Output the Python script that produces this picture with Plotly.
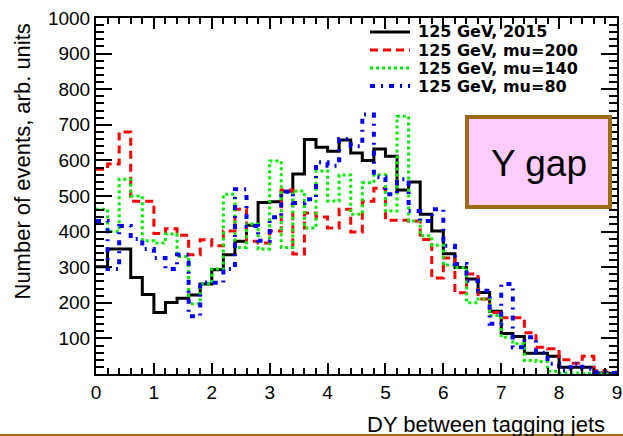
import plotly.graph_objects as go

# Histogram binning: 45 bins of width 0.2 over DY = 0 .. 9
bin_width = 0.2
n_bins = 45
bin_edges = [round(i * bin_width, 1) for i in range(n_bins + 1)]

# Bin contents (arb. units)
h_2015 = [301, 351, 351, 271, 223, 173, 201, 213, 222, 253,
          293, 335, 373, 418, 482, 484, 513, 562, 659, 637,
          626, 657, 621, 600, 632, 612, 517, 539, 449, 402,
          338, 299, 267, 229, 176, 114, 105, 58, 58, 50,
          19, 19, 19, 3, 2]
h_mu200 = [575, 590, 680, 485, 485, 395, 408, 390, 335, 377,
           360, 402, 463, 373, 368, 402, 517, 337, 452, 441,
           410, 463, 399, 485, 522, 432, 432, 430, 378, 270,
           326, 228, 281, 211, 173, 158, 158, 116, 75, 71,
           40, 30, 50, 10, 5]
h_mu140 = [463, 400, 547, 500, 374, 368, 393, 330, 197, 253,
           295, 505, 355, 421, 351, 598, 355, 514, 410, 570,
           486, 559, 449, 537, 560, 458, 724, 430, 388, 362,
           306, 299, 200, 211, 164, 103, 85, 38, 35, 8,
           3, 3, 2, 1, 1]
h_mu80 = [430, 295, 416, 379, 351, 326, 295, 335, 162, 257,
          256, 295, 519, 416, 374, 440, 512, 480, 491, 595,
          585, 660, 640, 729, 553, 505, 547, 458, 430, 463,
          360, 309, 262, 234, 141, 253, 75, 103, 60, 29,
          10, 29, 15, 5, 3]

series = [
    ("125 GeV, 2015", h_2015, "black", 3, "solid"),
    ("125 GeV, mu=200", h_mu200, "#ff0000", 3, "8px,5px"),
    ("125 GeV, mu=140", h_mu140, "#00ee00", 3, "3px,3px"),
    ("125 GeV, mu=80", h_mu80, "#0000ff", 4, "5px,6px,2px,6px"),
]

x_min, x_max = 0, 9
y_min, y_max = 0, 1000

# plot-area geometry in pixels
W, H = 623, 436
L, R, T, B = 96, 6, 18, 62
pw, ph = W - L - R, H - T - B


def px(xpix):
    return (xpix - L) / pw


def py(ypix):
    return (H - B - ypix) / ph


fig = go.Figure()

for name, vals, color, width, dash in series:
    xs = bin_edges[:-1] + [bin_edges[-1]]
    ys = vals + [vals[-1]]
    fig.add_trace(go.Scatter(
        x=xs, y=ys, mode="lines", name=name,
        line=dict(color=color, width=width, dash=dash, shape="hv"),
        showlegend=False, hoverinfo="skip",
    ))

# dummy trace so the mirrored top/right axes are drawn
fig.add_trace(go.Scatter(x=[None], y=[None], xaxis="x2", yaxis="y2",
                         showlegend=False, hoverinfo="skip"))

tick_font = dict(family="Liberation Sans, Arial, sans-serif", size=19, color="black")

common_x = dict(range=[x_min, x_max], showgrid=False, zeroline=False,
                showline=True, linecolor="black", linewidth=2,
                ticks="inside", ticklen=11, tickwidth=1.5, tickcolor="black",
                dtick=1, tick0=0, ticklabeloverflow="allow", automargin=False,
                minor=dict(ticks="inside", ticklen=6, tickwidth=1.5,
                           tickcolor="black", dtick=0.2, showgrid=False))
common_y = dict(range=[y_min, y_max], showgrid=False, zeroline=False,
                showline=True, linecolor="black", linewidth=2,
                ticks="inside", ticklen=16, tickwidth=1.5, tickcolor="black",
                tickvals=list(range(100, 1001, 100)), automargin=False,
                minor=dict(ticks="inside", ticklen=8, tickwidth=1.5,
                           tickcolor="black", tickvals=list(range(0, 1001, 20)),
                           showgrid=False))

fig.update_layout(
    width=W, height=H,
    margin=dict(l=L, r=R, t=T, b=B),
    paper_bgcolor="white", plot_bgcolor="white",
    xaxis=dict(**common_x, tickfont=tick_font, showticklabels=True),
    xaxis2=dict(**common_x, overlaying="x", side="top", showticklabels=False),
    yaxis=dict(**common_y, tickfont=tick_font, showticklabels=True),
    yaxis2=dict(**common_y, overlaying="y", side="right", showticklabels=False),
    showlegend=False,
)

title_font = dict(family="Liberation Sans, Arial, sans-serif", size=22, color="black")

annotations = [
    dict(text="Number of events, arb. units", x=px(22), y=py(161.5),
         xref="paper", yref="paper", textangle=-90, showarrow=False,
         xanchor="center", yanchor="middle", font=title_font),
    dict(text="DY between tagging jets", x=px(486), y=py(424),
         xref="paper", yref="paper", showarrow=False,
         xanchor="center", yanchor="middle", font=title_font),
    dict(text="Y gap", x=px(539), y=py(163), xref="paper", yref="paper",
         showarrow=False, xanchor="center", yanchor="middle",
         font=dict(family="Liberation Sans, Arial, sans-serif", size=37, color="black")),
]

shapes = [
    # label box
    dict(type="rect", xref="paper", yref="paper",
         x0=px(467), x1=px(610), y0=py(207), y1=py(117),
         fillcolor="#ffccff", line=dict(color="#9c6b14", width=4), layer="above"),
    # bottom border of the canvas
    dict(type="line", xref="paper", yref="paper",
         x0=px(0), x1=px(W), y0=py(435), y1=py(435),
         line=dict(color="#9c6b14", width=2)),
]

# legend: line samples and labels
legend_rows = [32, 50, 68, 86]
for (name, vals, color, width, dash), yrow in zip(series, legend_rows):
    shapes.append(dict(type="line", xref="paper", yref="paper",
                       x0=px(370), x1=px(410), y0=py(yrow), y1=py(yrow),
                       line=dict(color=color, width=width, dash=dash)))
    annotations.append(dict(text="<b>%s</b>" % name, x=px(416), y=py(yrow),
                            xref="paper", yref="paper", showarrow=False,
                            xanchor="left", yanchor="middle",
                            font=dict(family="DejaVu Sans, sans-serif",
                                      size=16, color="black")))

fig.update_layout(annotations=annotations, shapes=shapes)

fig.write_html("out.html")
